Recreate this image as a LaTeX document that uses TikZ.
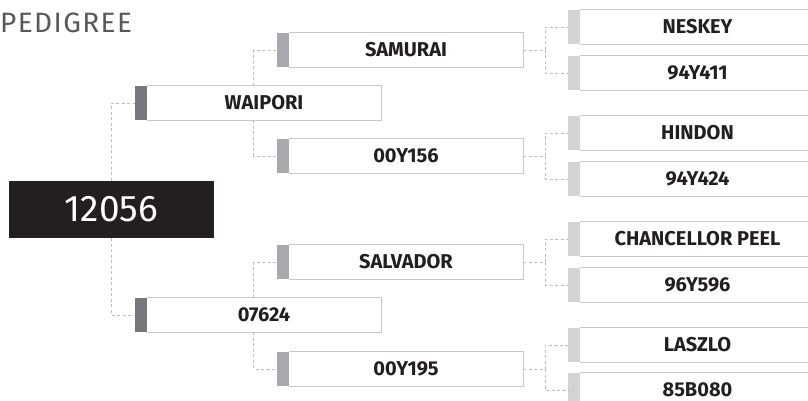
\documentclass[tikz,border=0pt]{standalone}
\usepackage{fontspec}
\setmainfont{Fira Sans}
\newfontfamily\labfont{Fira Sans}
\newfontfamily\lightfont{Fira Sans}
\usetikzlibrary{calc}
\definecolor{rootc}{HTML}{231F20}
\definecolor{txtc}{HTML}{231F20}
\definecolor{titlec}{HTML}{58595B}
\definecolor{barA}{HTML}{77787B}
\definecolor{barB}{HTML}{A7A9AC}
\definecolor{barC}{HTML}{D1D3D4}
\definecolor{edgec}{HTML}{C7C8CA}
\definecolor{dashc}{HTML}{BCBEC0}
\tikzset{
  pbox/.style={minimum width=246pt, minimum height=34pt, inner sep=0pt,
    font=\labfont\bfseries\fontsize{20}{20}\selectfont, text=txtc},
  boxline/.style={draw=edgec, line width=1.3pt},
  link/.style={draw=dashc, line width=0.9pt, dash pattern=on 3pt off 2.5pt},
  rootbox/.style={fill=rootc, minimum width=205pt, minimum height=57pt, inner sep=0pt,
    text=white, font=\lightfont\fontsize{37}{37}\selectfont},
  titletext/.style={anchor=base west, inner sep=0pt, text=titlec,
    font=\lightfont\fontsize{28}{28}\selectfont},
}
\newcommand\pedbox[5]{%
  \node[pbox] (#1) at (#2,#3) {\hspace*{12pt}#5};
  \fill[#4] (#1.north west) rectangle ([xshift=12pt]#1.south west);
  \draw[boxline] ([xshift=12pt]#1.north west) -- (#1.north east) -- (#1.south east) -- ([xshift=12pt]#1.south west);
}
\begin{document}
\begin{tikzpicture}[x=1pt,y=-1pt]
\useasboundingbox (0,0) rectangle (808,401);
\clip (0,0) rectangle (808,401);
\node[titletext] (title) at (0,33) {\addfontfeatures{LetterSpace=5}PEDIGREE};
\node[rootbox] (root) at (111.5,209.5) {12056};
% generation 1
\pedbox{waipori}{258}{103}{barA}{WAIPORI}
\pedbox{g07624}{258}{315}{barA}{07624}
% generation 2
\pedbox{samurai}{400}{50}{barB}{SAMURAI}
\pedbox{g00y156}{400}{156}{barB}{00Y156}
\pedbox{salvador}{400}{262}{barB}{SALVADOR}
\pedbox{g00y195}{400}{369}{barB}{00Y195}
% generation 3
\pedbox{neskey}{691.5}{27}{barC}{NESKEY}
\pedbox{g94y411}{691.5}{73}{barC}{94Y411}
\pedbox{hindon}{691.5}{133}{barC}{HINDON}
\pedbox{g94y424}{691.5}{179}{barC}{94Y424}
\pedbox{chancellor}{691.5}{239}{barC}{CHANCELLOR PEEL}
\pedbox{g96y596}{691.5}{285}{barC}{96Y596}
\pedbox{laszlo}{691.5}{345}{barC}{LASZLO}
\pedbox{g85b080}{691.5}{390}{barC}{85B080}
% connectors
\draw[link] (root.north) |- (waipori.west);
\draw[link] (root.south) |- (g07624.west);
\draw[link] ([xshift=119pt]waipori.north west) |- (samurai.west);
\draw[link] ([xshift=119pt]waipori.south west) |- (g00y156.west);
\draw[link] ([xshift=119pt]g07624.north west) |- (salvador.west);
\draw[link] ([xshift=119pt]g07624.south west) |- (g00y195.west);
\coordinate (jA) at ([xshift=22pt]samurai.east);
\coordinate (jB) at ([xshift=22pt]g00y156.east);
\coordinate (jC) at ([xshift=22pt]salvador.east);
\coordinate (jD) at ([xshift=22pt]g00y195.east);
\draw[link] (samurai.east) -- (jA);
\draw[link] (jA) |- (neskey.west);
\draw[link] (jA) |- (g94y411.west);
\draw[link] (g00y156.east) -- (jB);
\draw[link] (jB) |- (hindon.west);
\draw[link] (jB) |- (g94y424.west);
\draw[link] (salvador.east) -- (jC);
\draw[link] (jC) |- (chancellor.west);
\draw[link] (jC) |- (g96y596.west);
\draw[link] (g00y195.east) -- (jD);
\draw[link] (jD) |- (laszlo.west);
\draw[link] (jD) |- (g85b080.west);
\end{tikzpicture}
\end{document}
